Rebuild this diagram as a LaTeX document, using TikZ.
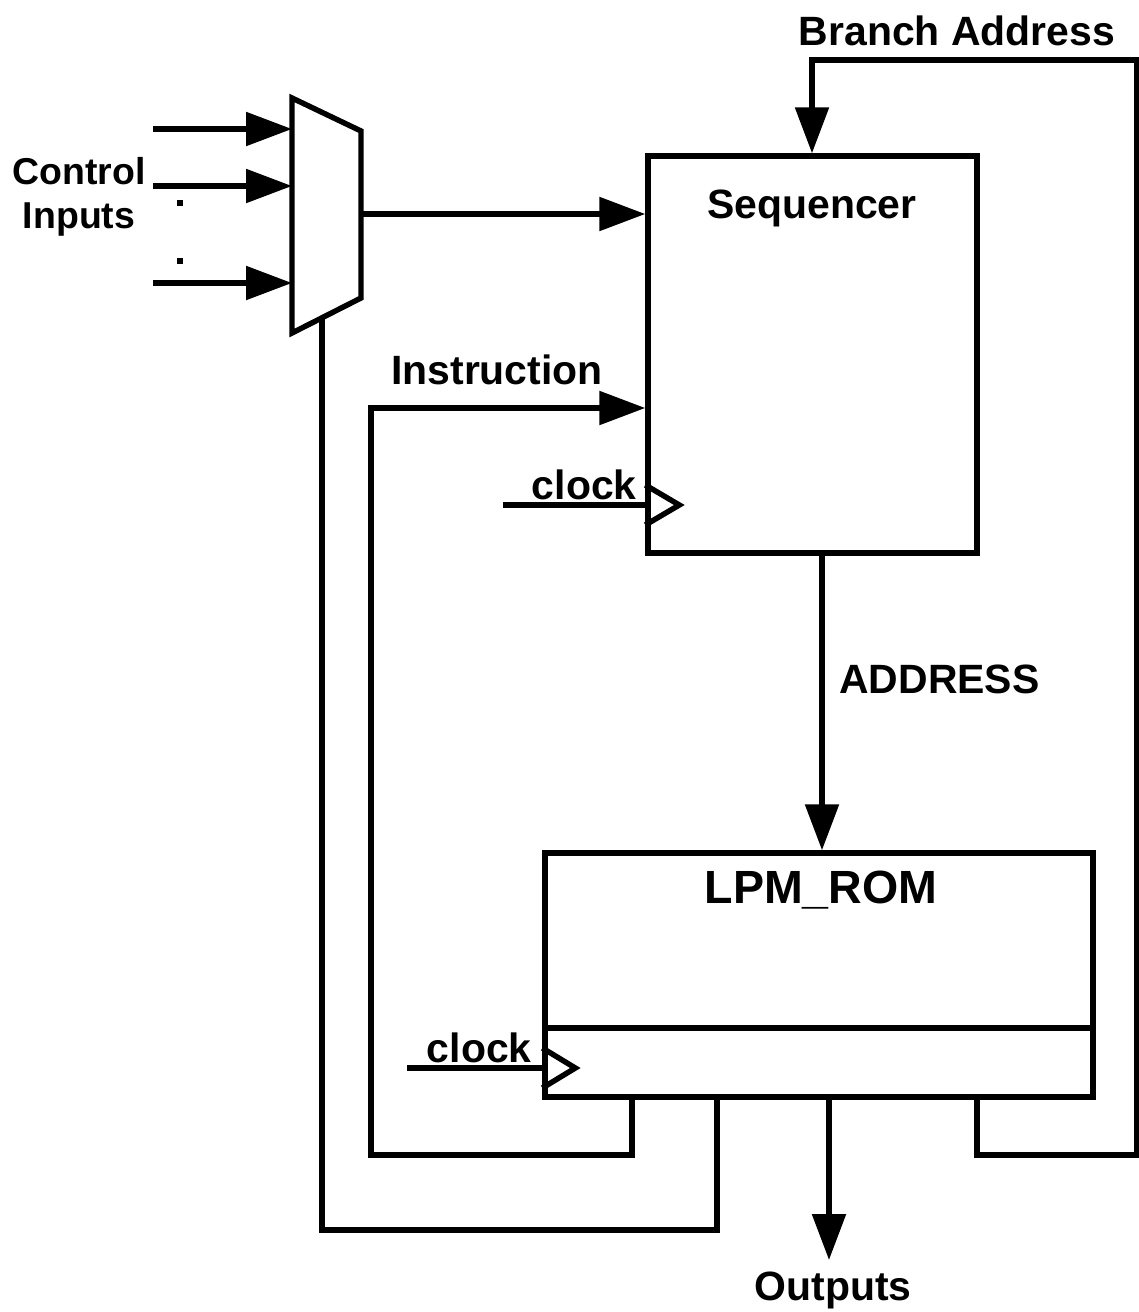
\documentclass[tikz,border=0pt]{standalone}
\usepackage{fontspec}
\setmainfont{Liberation Sans}
\usetikzlibrary{arrows.meta, positioning, calc}

\begin{document}
\begin{tikzpicture}[
  x=0.02cm, y=-0.02cm,
  wire/.style     = {line width=3.1pt, draw=black},
  arrow/.style    = {wire, -{Triangle[length=0.92cm, width=0.66cm]}},
  block/.style    = {draw=black, line width=3.1pt, inner sep=0pt},
  lbl/.style      = {font=\bfseries\fontsize{23.3}{28}\selectfont, inner sep=0pt},
  biglbl/.style   = {font=\bfseries\fontsize{26.5}{30}\selectfont, inner sep=0pt},
  dotmark/.style  = {fill=black, rectangle, inner sep=0pt, minimum size=3pt},
]
\useasboundingbox (0,0) rectangle (1139,1312);

%% ==================== BLOCKS ====================
\node[block, minimum width=6.58cm, minimum height=7.94cm] (seq) at (812.5,354.5) {};
\node[block, minimum width=10.96cm, minimum height=4.88cm] (rom) at (819,975) {};
\coordinate (rom-div) at (0,1028);
\draw[wire] (rom.west |- rom-div) -- (rom.east |- rom-div);

%% Multiplexer (trapezoid)
\coordinate (mux-tl) at (292,98);
\coordinate (mux-tr) at (361,131);
\coordinate (mux-br) at (361,298);
\coordinate (mux-bl) at (292,333);
\coordinate (mux-out) at (361,214);
\coordinate (mux-sel) at (322,318);
\draw[wire, line join=miter] (mux-tl) -- (mux-tr) -- (mux-br) -- (mux-bl) -- cycle;

%% ==================== LABELS ====================
\node[lbl, anchor=base] (seq-name) at (812,218) {Sequencer};
\node[biglbl, anchor=base] (rom-name) at (821,903) {LPM\_ROM};
\node[lbl, anchor=base] (branch-lbl) at (957,45) {Branch Address};
\node[lbl, anchor=base] (instr-lbl) at (497,384) {Instruction};
\node[lbl, anchor=base west] (addr-lbl) at (839,693) {ADDRESS};
\node[lbl, anchor=base] (out-lbl) at (833,1300) {Outputs};
\node[lbl, anchor=base east] (clk1-lbl) at (637,499) {clock};
\node[lbl, anchor=base east] (clk2-lbl) at (532,1062) {clock};
\node[font=\bfseries\fontsize{21.3}{25}\selectfont, inner sep=0pt, align=center] (ctrl-lbl) at (79,197) {Control\\Inputs};
\node[dotmark] (dot1) at (180,203) {};
\node[dotmark] (dot2) at (180,261) {};

%% ==================== CONNECTORS ====================
%% control inputs into the mux
\foreach \y/\n in {129/1, 186/2, 283/3} {
  \coordinate (ci\n) at (153,\y);
  \coordinate (mi\n) at (292,\y);
  \draw[arrow] (ci\n) -- (mi\n);
}
\draw[arrow] (mux-out) -- (mux-out -| seq.west);

%% sequencer -> ROM
\coordinate (addr) at (822,0);
\draw[arrow] (seq.south -| addr) -- (rom.north -| addr);

%% clocks
\coordinate (seq-clk) at (503,505);
\draw[wire] (seq-clk) -- (seq-clk -| seq.west);
\draw[wire, line join=miter] (seq.west |- seq-clk) ++(0,-20) -- ++(34,20) -- ++(-34,20);
\coordinate (rom-clk) at (407,1068);
\draw[wire] (rom-clk) -- (rom-clk -| rom.west);
\draw[wire, line join=miter] (rom.west |- rom-clk) ++(0,-20) -- ++(33,20) -- ++(-33,20);

%% taps on the bottom of the ROM
\coordinate (tap-instr)  at (632,1155);
\coordinate (tap-sel)    at (717,1230);
\coordinate (tap-out)    at (829,1260);
\coordinate (tap-branch) at (977,1155);

%% instruction loop
\coordinate (instr-low) at (371,1155);
\coordinate (instr-up)  at (371,408);
\draw[arrow, line join=miter] (rom.south -| tap-instr) |- (instr-low) -- (instr-up) -- (instr-up -| seq.west);

%% select loop back to mux
\coordinate (sel-low) at (322,1230);
\draw[wire, line join=miter] (rom.south -| tap-sel) |- (sel-low) -- (mux-sel);

%% outputs
\draw[arrow] (rom.south -| tap-out) -- (tap-out);

%% branch address loop
\coordinate (br-right) at (1137,1155);
\coordinate (br-top)   at (812,60);
\draw[arrow, line join=miter] (rom.south -| tap-branch) |- (br-right) |- (br-top) -- (br-top |- seq.north);

\end{tikzpicture}
\end{document}
